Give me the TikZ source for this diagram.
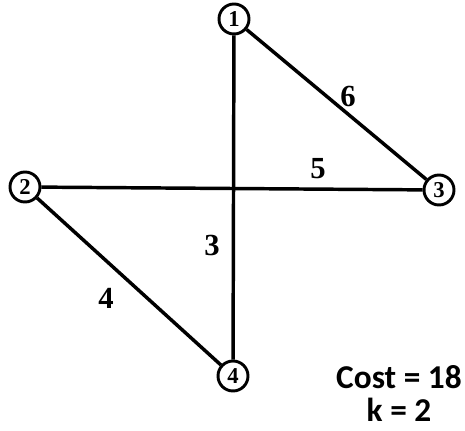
\documentclass[tikz,border=0pt]{standalone}
\usepackage{fontspec}
\setmainfont{Liberation Serif}
\newfontfamily\costfont{Carlito}

\begin{document}
\begin{tikzpicture}[x=0.75pt, y=-0.75pt,
    vertex/.style={circle, draw, line width=2.2pt, minimum size=22.5pt, inner sep=0pt,
                   font=\bfseries\fontsize{17}{17}\selectfont, fill=white},
    edge/.style={line width=2.6pt},
    weight/.style={font=\bfseries\fontsize{23}{23}\selectfont},
    total/.style={font=\costfont\bfseries\fontsize{25}{25}\selectfont}]
    \useasboundingbox (0,0) rectangle (465,431);
    % vertices
    \node[vertex] (v1) at (234,19) {1};
    \node[vertex] (v2) at (25,187) {2};
    \node[vertex] (v3) at (439,190) {3};
    \node[vertex] (v4) at (233,376) {4};
    % edges
    \draw[edge] (v1) -- (v4);
    \draw[edge] (v2) -- (v3);
    \draw[edge] (v1) -- (v3);
    \draw[edge] (v2) -- (v4);
    % weights
    \node[weight] (w13) at (348,96) {6};
    \node[weight] (w23) at (318,169) {5};
    \node[weight] (w14) at (212,245) {3};
    \node[weight] (w24) at (106,298) {4};
    % totals
    \node[total] (cost) at (399,377) {Cost = 18};
    \node[total] (k) at (399,410) {k = 2};
\end{tikzpicture}
\end{document}
